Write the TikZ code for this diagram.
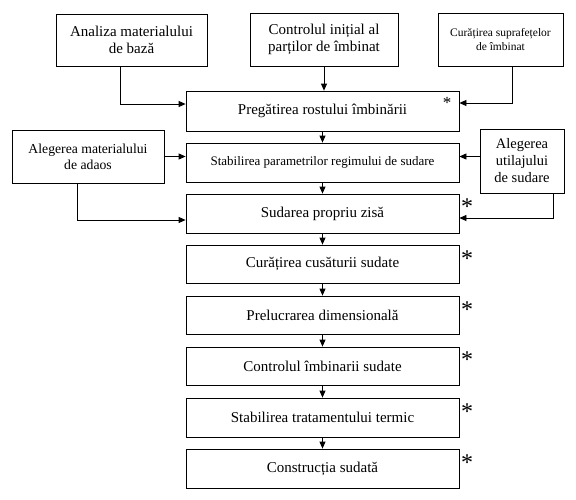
\documentclass[tikz,border=0pt]{standalone}
\usepackage{fontspec}
\setmainfont{Liberation Serif}
\usetikzlibrary{arrows.meta}
\begin{document}
\begin{tikzpicture}[x=1pt,y=-1pt,
  box/.style={draw,line width=0.8pt,inner sep=1pt,align=center,
    font=\fontsize{15}{17}\selectfont},
  arr/.style={line width=0.8pt,-{Triangle[length=7pt,width=6pt]}},
  star/.style={inner sep=0pt,anchor=base,font=\fontsize{24}{24}\selectfont}]
\useasboundingbox (0,0) rectangle (576,499);
% top row
\node[box,minimum width=151pt,minimum height=52pt] (A) at (131.5,40) {Analiza materialului\\de bază};
\node[box,minimum width=148pt,minimum height=53pt] (B) at (324,39.5) {Controlul inițial al\\parților de îmbinat};
\node[box,minimum width=125pt,minimum height=53pt,font=\fontsize{11.5}{14.5}\selectfont] (C) at (500.5,39.5) {Curățirea suprafețelor\\de îmbinat};
% main column
\node[box,minimum width=273pt,minimum height=40pt] (P) at (322.5,111) {Pregătirea rostului îmbinării};
\node[box,minimum width=273pt,minimum height=39pt,font=\fontsize{13}{15}\selectfont] (S) at (322.5,162.5) {Stabilirea parametrilor regimului de sudare};
\node[box,minimum width=273pt,minimum height=39pt] (Su) at (322.5,213.5) {Sudarea propriu zisă};
\node[box,minimum width=273pt,minimum height=38pt] (Cu) at (322.5,264) {Curățirea cusăturii sudate};
\node[box,minimum width=273pt,minimum height=38pt] (Pr) at (322.5,315) {Prelucrarea dimensională};
\node[box,minimum width=273pt,minimum height=38pt] (Co) at (322.5,366) {Controlul îmbinarii sudate};
\node[box,minimum width=273pt,minimum height=39pt] (St) at (322.5,417.5) {Stabilirea tratamentului termic};
\node[box,minimum width=273pt,minimum height=39pt] (Cs) at (322.5,468.5) {Construcția sudată};
% side boxes
\node[box,minimum width=152pt,minimum height=53pt,font=\fontsize{13.7}{16}\selectfont] (M) at (88,156.5) {Alegerea materialului\\de adaos};
\node[box,minimum width=84pt,minimum height=64pt,font=\fontsize{14.5}{17}\selectfont] (U) at (522,161) {Alegerea\\utilajului\\de sudare};
% stars
\node[star,font=\fontsize{17}{17}\selectfont] (s0) at (447,108.5) {*};
\node[star] (s1) at (467,214) {*};
\node[star] (s2) at (467,266) {*};
\node[star] (s3) at (467,317) {*};
\node[star] (s4) at (467,367) {*};
\node[star] (s5) at (467,419) {*};
\node[star] (s6) at (467,470) {*};
% connectors
\draw[arr] ([xshift=-11.5pt]A.south) |- ([yshift=7pt]P.west);
\draw[arr] (B.south) -- (B.south |- P.north);
\draw[arr] ([xshift=11.5pt]C.south) |- ([yshift=8pt]P.east);
\draw[arr] (P.south) -- (S.north);
\draw[arr] (M.east) -- (M.east -| S.west);
\draw[arr] (U.west |- M.east) -- (S.east |- M.east);
\draw[arr] (S.south) -- (Su.north);
\draw[arr] ([xshift=-11pt]M.south) |- ([yshift=-6.5pt]Su.west);
\draw[arr] ([xshift=31pt]U.south) |- ([yshift=-4.5pt]Su.east);
\draw[arr] (Su.south) -- (Cu.north);
\draw[arr] (Cu.south) -- (Pr.north);
\draw[arr] (Pr.south) -- (Co.north);
\draw[arr] (Co.south) -- (St.north);
\draw[arr] (St.south) -- (Cs.north);
\end{tikzpicture}
\end{document}
